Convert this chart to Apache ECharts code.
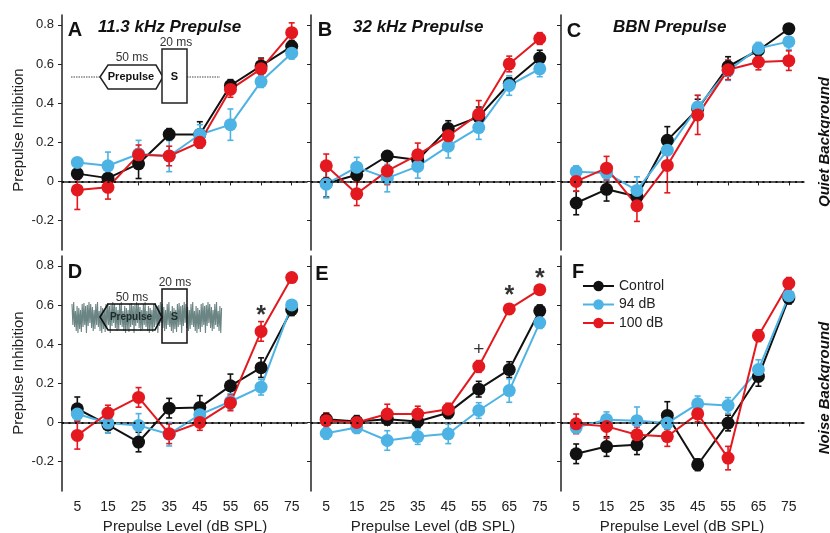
<!DOCTYPE html>
<html><head><meta charset="utf-8">
<script src="https://cdn.jsdelivr.net/npm/echarts@6/dist/echarts.min.js"></script>
<style>html,body{margin:0;padding:0;background:#fff}#c{width:830px;height:533px}</style>
</head><body><div id="c"></div>
<script>
const categories = ['5','15','25','35','45','55','65','75'];
const yTicks = [-0.2, 0, 0.2, 0.4, 0.6, 0.8];
const seriesNames = ['Control', '94 dB', '100 dB'];

const A_control = [0.04, 0.017, 0.09, 0.24, 0.24, 0.49, 0.59, 0.69];
const A_control_err = [0.03, 0.02, 0.075, 0.03, 0.065, 0.03, 0.04, 0.03];
const A_94 = [0.097, 0.08, 0.14, 0.13, 0.24, 0.29, 0.51, 0.655];
const A_94_err = [0.02, 0.07, 0.07, 0.08, 0.05, 0.08, 0.03, 0.03];
const A_100 = [-0.043, -0.03, 0.136, 0.13, 0.20, 0.47, 0.575, 0.76];
const A_100_err = [0.1, 0.06, 0.05, 0.05, 0.03, 0.04, 0.05, 0.05];

const B_control = [-0.01, 0.034, 0.13, 0.11, 0.27, 0.33, 0.50, 0.63];
const B_control_err = [0.07, 0.03, 0.02, 0.03, 0.04, 0.05, 0.03, 0.04];
const B_94 = [-0.014, 0.073, 0.017, 0.077, 0.18, 0.275, 0.49, 0.575];
const B_94_err = [0.07, 0.05, 0.07, 0.06, 0.06, 0.06, 0.05, 0.04];
const B_100 = [0.08, -0.063, 0.054, 0.136, 0.233, 0.343, 0.60, 0.73];
const B_100_err = [0.06, 0.06, 0.07, 0.06, 0.04, 0.07, 0.04, 0.03];

const C_control = [-0.11, -0.04, -0.077, 0.21, 0.37, 0.587, 0.67, 0.78];
const C_control_err = [0.06, 0.06, 0.05, 0.07, 0.05, 0.05, 0.03, 0.02];
const C_94 = [0.05, 0.043, -0.046, 0.16, 0.38, 0.566, 0.68, 0.714];
const C_94_err = [0.03, 0.04, 0.07, 0.07, 0.06, 0.05, 0.03, 0.04];
const C_100 = [0.0, 0.068, -0.124, 0.082, 0.34, 0.57, 0.61, 0.617];
const C_100_err = [0.05, 0.06, 0.08, 0.14, 0.1, 0.05, 0.04, 0.05];

const D_control = [0.07, -0.012, -0.10, 0.073, 0.077, 0.187, 0.28, 0.576];
const D_control_err = [0.06, 0.04, 0.05, 0.05, 0.06, 0.06, 0.05, 0.03];
const D_94 = [0.043, -0.003, -0.015, -0.06, 0.04, 0.107, 0.18, 0.60];
const D_94_err = [0.03, 0.05, 0.06, 0.06, 0.04, 0.04, 0.04, 0.02];
const D_100 = [-0.066, 0.048, 0.128, -0.058, 0.0, 0.10, 0.465, 0.74];
const D_100_err = [0.07, 0.04, 0.05, 0.05, 0.04, 0.04, 0.05, 0.02];

const E_control = [0.017, 0.005, 0.017, 0.005, 0.05, 0.17, 0.27, 0.57];
const E_control_err = [0.03, 0.03, 0.03, 0.03, 0.03, 0.04, 0.04, 0.03];
const E_94 = [-0.055, -0.026, -0.092, -0.072, -0.058, 0.061, 0.163, 0.51];
const E_94_err = [0.03, 0.03, 0.05, 0.04, 0.05, 0.04, 0.06, 0.03];
const E_100 = [0.009, 0.0, 0.043, 0.043, 0.068, 0.286, 0.58, 0.678];
const E_100_err = [0.04, 0.03, 0.05, 0.04, 0.03, 0.03, 0.02, 0.02];

const F_control = [-0.16, -0.123, -0.114, 0.036, -0.216, -0.003, 0.235, 0.635];
const F_control_err = [0.05, 0.05, 0.05, 0.07, 0.03, 0.04, 0.05, 0.03];
const F_94 = [-0.026, 0.014, 0.009, -0.003, 0.095, 0.087, 0.27, 0.647];
const F_94_err = [0.03, 0.04, 0.07, 0.03, 0.04, 0.04, 0.05, 0.02];
const F_100 = [-0.007, -0.02, -0.063, -0.072, 0.044, -0.182, 0.443, 0.71];
const F_100_err = [0.05, 0.06, 0.04, 0.05, 0.04, 0.06, 0.03, 0.03];

// significance marks: panel, category index, value position, symbol
const annotations = [['D', 6, 0.575, '*'], ['E', 5, 0.371, '+'], ['E', 6, 0.677, '*'], ['E', 7, 0.764, '*']];

const panels = [
  {id:'A', vals:[A_control, A_94, A_100], errs:[A_control_err, A_94_err, A_100_err]},
  {id:'B', vals:[B_control, B_94, B_100], errs:[B_control_err, B_94_err, B_100_err]},
  {id:'C', vals:[C_control, C_94, C_100], errs:[C_control_err, C_94_err, C_100_err]},
  {id:'D', vals:[D_control, D_94, D_100], errs:[D_control_err, D_94_err, D_100_err]},
  {id:'E', vals:[E_control, E_94, E_100], errs:[E_control_err, E_94_err, E_100_err]},
  {id:'F', vals:[F_control, F_94, F_100], errs:[F_control_err, F_94_err, F_100_err]}
];

const COLORS = ['#111111', '#4db3e4', '#e3191f'];
const FONT = "'Liberation Sans', Arial, sans-serif";
const colLeft = [62, 311, 561], colWidth = [245, 244, 243];
const rowTop = [15, 256], rowH = 235;

const grid = [], xAxis = [], yAxis = [], series = [];
panels.forEach((p, pi) => {
  const r = Math.floor(pi / 3), c = pi % 3;
  grid.push({left: colLeft[c], width: colWidth[c], top: rowTop[r], height: rowH, containLabel: false});
  xAxis.push({
    type: 'category', gridIndex: pi, data: categories, boundaryGap: true,
    axisLine: {show: true, lineStyle: {color: '#222', width: 1.5}},
    axisTick: {show: true, alignWithLabel: true, length: 4, lineStyle: {color: '#222', width: 1}},
    axisLabel: {show: r === 1, fontSize: 14, color: '#222', fontFamily: FONT, margin: 9},
    splitLine: {show: false}
  });
  yAxis.push({
    type: 'value', gridIndex: pi, min: -0.35, max: 0.85,
    axisLine: {show: true, lineStyle: {color: '#222', width: 1.5}},
    axisTick: {show: true, length: 4, customValues: yTicks, lineStyle: {color: '#222', width: 1}},
    axisLabel: {show: c === 0, customValues: yTicks, fontSize: 13, color: '#222', fontFamily: FONT, margin: 8,
      formatter: v => (Math.abs(v) < 1e-9 ? '0' : String(Math.round(v * 10) / 10))},
    splitLine: {show: false}
  });
  series.push({
    type: 'line', xAxisIndex: pi, yAxisIndex: pi, data: [], silent: true, z: 1,
    markLine: {silent: true, symbol: 'none', label: {show: false},
      lineStyle: {type: [2, 4.5], color: '#111', width: 2}, data: [{yAxis: 0}]}
  });
  p.vals.forEach((vals, k) => {
    const errs = p.errs[k];
    const color = COLORS[k];
    series.push({
      type: 'custom', name: 'err' + pi + k, xAxisIndex: pi, yAxisIndex: pi, z: 2, silent: true,
      data: vals.map((v, i) => [i, v, errs[i]]),
      encode: {x: 0, y: 1},
      renderItem: (params, api) => {
        const i = api.value(0), v = api.value(1), e = api.value(2);
        const hi = api.coord([i, v + e]), lo = api.coord([i, v - e]);
        const w = 3;
        const st = {stroke: color, lineWidth: 1.6};
        return {type: 'group', children: [
          {type: 'line', shape: {x1: hi[0], y1: hi[1], x2: lo[0], y2: lo[1]}, style: st},
          {type: 'line', shape: {x1: hi[0] - w, y1: hi[1], x2: hi[0] + w, y2: hi[1]}, style: st},
          {type: 'line', shape: {x1: lo[0] - w, y1: lo[1], x2: lo[0] + w, y2: lo[1]}, style: st}
        ]};
      }
    });
    series.push({
      type: 'line', name: seriesNames[k], xAxisIndex: pi, yAxisIndex: pi, z: 2,
      data: vals, symbol: 'circle', symbolSize: 13, showSymbol: true,
      lineStyle: {color: color, width: 2}, itemStyle: {color: color},
      emphasis: {disabled: true}, animation: false
    });
  });
  const ann = annotations.filter(a => a[0] === p.id);
  if (ann.length) {
    series.push({
      type: 'scatter', xAxisIndex: pi, yAxisIndex: pi, z: 5, symbolSize: 1, silent: true,
      itemStyle: {color: 'transparent'},
      data: ann.map(a => ({value: [a[1], a[2]],
        label: a[3] === '*' ? {formatter: '*', fontSize: 25, fontWeight: 'bold', offset: [0, 6]}
                            : {formatter: '+', fontSize: 19, fontWeight: 'normal', offset: [0, 0]}})),
      label: {show: true, position: 'inside', color: '#000', fontFamily: FONT}
    });
  }
});

// graphics
const g = [];
function txt(x, y, text, size, opts) {
  g.push({type: 'text', x: x, y: y, silent: true,
    style: Object.assign({text: text, fontSize: size, fontFamily: FONT, fill: '#111', textAlign: 'center', textVerticalAlign: 'middle'}, opts || {})});
}
txt(75, 30, 'A', 20, {fontWeight: 'bold'});
txt(98, 27, '11.3 kHz Prepulse', 17, {fontWeight: 'bold', fontStyle: 'italic', textAlign: 'left'});
txt(325, 30, 'B', 20, {fontWeight: 'bold'});
txt(353, 27, '32 kHz Prepulse', 17, {fontWeight: 'bold', fontStyle: 'italic', textAlign: 'left'});
txt(574, 31, 'C', 20, {fontWeight: 'bold'});
txt(613, 27, 'BBN Prepulse', 17, {fontWeight: 'bold', fontStyle: 'italic', textAlign: 'left'});
txt(75, 272, 'D', 20, {fontWeight: 'bold'});
txt(322, 274, 'E', 20, {fontWeight: 'bold'});
txt(578, 272, 'F', 20, {fontWeight: 'bold'});
g.push({type: 'text', x: 19, y: 130, rotation: Math.PI / 2, silent: true,
  style: {text: 'Prepulse Inhibition', fontSize: 15, fontFamily: FONT, fill: '#222', textAlign: 'center', textVerticalAlign: 'middle'}});
g.push({type: 'text', x: 19, y: 373, rotation: Math.PI / 2, silent: true,
  style: {text: 'Prepulse Inhibition', fontSize: 15, fontFamily: FONT, fill: '#222', textAlign: 'center', textVerticalAlign: 'middle'}});
[185, 433, 682].forEach(x => txt(x, 527, 'Prepulse Level (dB SPL)', 15, {fill: '#222'}));
g.push({type: 'text', x: 825, y: 142, rotation: Math.PI / 2, silent: true,
  style: {text: 'Quiet Background', fontSize: 15, fontWeight: 'bold', fontStyle: 'italic', fontFamily: FONT, fill: '#111', textAlign: 'center', textVerticalAlign: 'middle'}});
g.push({type: 'text', x: 825, y: 388, rotation: Math.PI / 2, silent: true,
  style: {text: 'Noise Background', fontSize: 15, fontWeight: 'bold', fontStyle: 'italic', fontFamily: FONT, fill: '#111', textAlign: 'center', textVerticalAlign: 'middle'}});

// inset A (quiet)
g.push({type: 'line', silent: true, shape: {x1: 71, y1: 77, x2: 100, y2: 77}, style: {stroke: '#444', lineWidth: 1, lineDash: [1.5, 1]}});
g.push({type: 'line', silent: true, shape: {x1: 187, y1: 77, x2: 220, y2: 77}, style: {stroke: '#444', lineWidth: 1, lineDash: [1.5, 1]}});
g.push({type: 'polygon', silent: true, shape: {points: [[100, 77], [108, 65], [156, 65], [163, 77], [156, 89], [108, 89]]}, style: {fill: '#fff', stroke: '#222', lineWidth: 1.5}});
g.push({type: 'rect', silent: true, shape: {x: 162, y: 49, width: 25, height: 54}, style: {fill: '#fff', stroke: '#222', lineWidth: 1.5}});
txt(131, 77, 'Prepulse', 11, {fontWeight: 'bold'});
txt(174.5, 77, 'S', 11, {fontWeight: 'bold'});
txt(132, 58, '50 ms', 12, {fill: '#333'});
txt(176, 43, '20 ms', 12, {fill: '#333'});

// inset D (noise)
const noiseAmp = [13, 8, 15, 10, 6, 14, 11, 16, 9, 12, 7, 15, 13, 10, 14, 8, 11, 16, 12, 9, 15, 6, 13, 11, 10, 14, 7, 12];
const pts = [];
let idx = 0;
for (let x = 72; x <= 222; x += 0.85) {
  const a = noiseAmp[idx % noiseAmp.length];
  pts.push([x, 317 + (idx % 2 === 0 ? -a : a)]);
  idx++;
}
g.push({type: 'polyline', silent: true, shape: {points: pts}, style: {stroke: '#6a8583', lineWidth: 1.1, fill: null}});
g.push({type: 'polygon', silent: true, shape: {points: [[100, 317], [108, 304], [155, 304], [162, 317], [155, 330], [108, 330]]}, style: {fill: 'rgba(0,0,0,0)', stroke: '#111', lineWidth: 1.6}});
g.push({type: 'rect', silent: true, shape: {x: 162, y: 289, width: 25, height: 54}, style: {fill: 'rgba(0,0,0,0)', stroke: '#111', lineWidth: 1.5}});
txt(131, 317, 'Prepulse', 10, {fontWeight: 'bold', fill: '#1f2b2a'});
txt(174.5, 317, 'S', 11, {fontWeight: 'bold', fill: '#1f2b2a'});
txt(132, 298, '50 ms', 12, {fill: '#333'});
txt(175, 283, '20 ms', 12, {fill: '#333'});

const chart = echarts.init(document.getElementById('c'), null, {renderer: 'canvas'});
chart.setOption({
  animation: false,
  backgroundColor: '#fff',
  textStyle: {fontFamily: FONT},
  grid: grid, xAxis: xAxis, yAxis: yAxis, series: series,
  legend: {data: seriesNames, orient: 'vertical', left: 582, top: 279, itemWidth: 31, itemHeight: 13, itemGap: 4.5,
    padding: 0, textStyle: {fontSize: 14, color: '#222', fontFamily: FONT}, selectedMode: false},
  graphic: g
});
</script></body></html>
